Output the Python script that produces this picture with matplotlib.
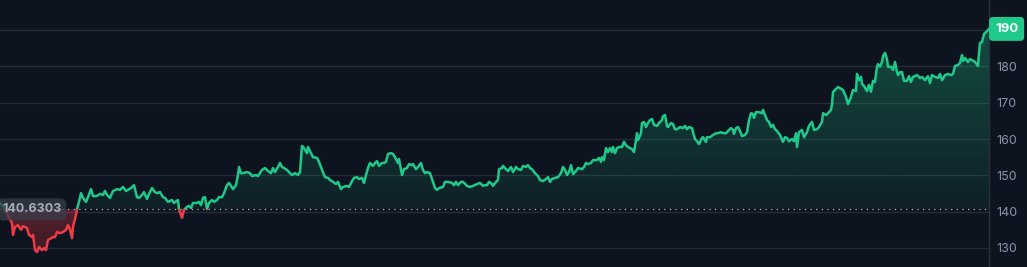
import numpy as np
import matplotlib.pyplot as plt
from matplotlib.path import Path
from matplotlib.patches import Rectangle
import matplotlib.transforms as mtransforms

plt.rcParams['font.family'] = ['Inter', 'DejaVu Sans']

# session index (time axis) and closing price
t = [0, 4, 8, 12, 13, 15, 18, 21, 23, 27, 29, 32, 33, 35, 37, 39, 42, 44, 46, 48,
     51, 53, 55, 57, 60, 63, 66, 68, 70, 72, 73, 76, 77, 79, 81, 83, 86, 88, 91, 93,
     97, 100, 103, 105, 107, 110, 113, 117, 120, 123, 126, 128, 131, 134, 137, 139,
     142, 144, 147, 149, 152, 155, 157, 160, 163,
     165, 168, 172, 174, 178, 179, 181, 182, 184, 187, 189, 191, 193, 197, 199, 201,
     203, 205, 207, 209, 212, 214, 217, 219, 222, 224, 227, 229, 231, 233, 236, 238,
     239, 241, 243, 247, 250, 252, 256, 258, 262, 265, 268, 271, 273, 275, 278, 280,
     282, 286, 289, 292, 295, 298, 300, 302, 304, 307, 308, 311, 313, 317, 319, 322,
     325, 328,
     330, 333, 336, 338, 341, 343, 347, 349, 352, 354, 357, 359, 362, 364, 366, 368,
     370, 373, 375, 377, 379, 382, 384, 386, 388, 391, 393, 396, 398, 399, 402, 404,
     407, 409, 412, 413, 416, 418, 421, 423, 425, 427, 430, 433, 435, 437, 439, 443,
     445, 448, 452, 454, 456, 458, 461, 463, 467, 470, 473, 477, 480, 483, 485, 487,
     489, 492, 493, 496,
     498, 499, 502, 503, 506, 508, 511, 513, 516, 518, 521, 523, 526, 528, 530, 532,
     535, 538, 540, 543, 546, 548, 550, 552, 555, 558, 561, 563, 565, 567, 569, 571,
     573, 576, 578, 582, 584, 586, 588, 591, 593, 597, 599, 601, 602, 604, 606, 608,
     610, 612, 613, 615, 617, 619, 622, 624, 626, 628, 632, 634, 636, 637, 638, 641,
     642, 644, 646, 648, 650, 652, 654, 657, 659,
     662, 663, 665, 667, 668, 671, 673, 675, 677, 680, 683, 685, 687, 689, 692, 693,
     695, 697, 699, 702, 703, 706, 707, 710, 713, 716, 718, 721, 723, 726, 728, 731,
     733, 734, 736, 738, 740, 742, 745, 747, 749, 751, 753, 754, 756, 759, 762, 763,
     765, 767, 769, 771, 773, 775, 777, 780, 783, 785, 787, 789, 792, 794, 796, 797,
     799, 802, 804, 807, 809, 812, 814, 817, 819, 822, 823,
     826, 828, 831, 832, 833, 836, 838, 841, 843, 846, 848, 851, 853, 856, 857, 859,
     861, 862, 864, 867, 869, 871, 873, 875, 877, 878, 880, 882, 883, 885, 887, 888,
     891, 893, 895, 897, 898, 900, 902, 904, 907, 909, 911, 913, 917, 920, 922, 925,
     928, 930, 932, 935, 938, 940, 942, 945, 948, 951, 953, 955, 958, 960, 962, 963,
     965, 968, 970, 972, 975, 978, 979, 980, 982, 984, 987, 989]

prices = [142.4, 141.2, 138.8, 136.9, 133.6, 135.8, 136.3, 135.0, 136.0, 135.5, 133.6,
          133.0, 133.6, 129.4, 128.9, 130.3, 129.4, 130.0, 129.4, 132.2, 132.7, 133.0,
          133.0, 134.4, 134.1, 134.4, 135.0, 136.3, 135.0, 132.7, 135.8, 139.1, 140.7,
          142.7, 145.1, 143.8, 142.7, 144.0, 146.2, 144.3, 144.3, 144.9, 144.6, 145.7,
          144.6, 143.8, 145.7, 146.2, 146.0, 146.8, 145.7, 146.0, 146.5, 147.3, 144.0,
          143.8, 144.6, 145.4, 143.5, 144.9, 146.5, 145.4, 145.1, 145.4, 144.0,
          143.8, 142.7, 143.2, 142.4, 143.2, 140.5, 139.1, 138.3, 140.5, 141.3, 141.6,
          141.0, 142.4, 142.4, 142.7, 141.8, 143.8, 144.0, 140.7, 142.4, 143.2, 142.7,
          143.2, 144.0, 144.0, 145.1, 147.3, 147.9, 147.1, 146.2, 147.3, 150.1, 152.3,
          150.6, 150.6, 150.9, 150.6, 149.8, 150.1, 149.8, 151.5, 152.0, 151.2, 150.6,
          152.0, 150.9, 152.3, 153.4, 152.3, 151.7, 150.9, 150.1, 150.6, 150.1, 150.9,
          158.1, 157.5, 156.1, 157.8, 156.1, 155.0, 154.8, 153.7, 151.5, 149.5, 149.3,
          148.7, 148.2, 147.6, 148.2, 146.2, 146.8, 147.1, 146.8, 148.4, 149.3, 149.5,
          149.0, 149.3, 147.9, 150.1, 152.0, 153.4, 152.6, 153.4, 153.9, 152.6, 153.4,
          153.4, 153.7, 155.9, 156.1, 155.9, 154.5, 153.4, 154.5, 150.1, 151.7, 152.0,
          153.1, 152.8, 153.1, 151.7, 152.3, 153.4, 151.5, 150.6, 150.9, 150.6, 148.2,
          146.5, 146.0, 146.5, 146.8, 148.2, 148.2, 147.9, 147.3, 148.2, 147.3, 148.2,
          148.2, 147.1, 146.8, 147.1, 147.6, 147.9, 147.1, 147.3, 147.3, 148.2, 147.6,
          147.1, 148.2,
          148.7, 151.7, 152.0, 152.6, 151.7, 151.2, 152.3, 150.9, 152.3, 151.7, 151.5,
          152.6, 152.3, 152.8, 152.0, 151.7, 150.6, 149.8, 148.7, 148.4, 149.0, 149.5,
          148.2, 149.0, 149.3, 149.5, 150.6, 152.3, 151.5, 150.1, 150.9, 152.8, 150.3,
          151.2, 152.0, 151.7, 152.3, 153.4, 153.1, 153.4, 154.2, 154.2, 154.8, 153.7,
          155.0, 154.2, 157.5, 156.4, 157.5, 156.4, 157.8, 156.1, 157.5, 157.8, 157.8,
          159.2, 158.3, 157.8, 157.2, 156.4, 159.7, 161.6, 159.7, 161.6, 164.4, 164.7,
          163.3, 164.4, 165.2, 165.5, 163.9, 163.6, 164.4,
          165.2, 166.3, 166.6, 163.6, 163.3, 164.4, 164.1, 162.7, 162.7, 163.3, 163.0,
          163.6, 162.7, 163.3, 163.0, 161.9, 160.0, 159.4, 158.6, 160.3, 160.5, 159.2,
          160.5, 160.5, 161.1, 161.6, 161.6, 161.9, 161.6, 161.6, 162.2, 163.0, 162.5,
          161.4, 163.0, 163.3, 162.2, 160.8, 161.1, 161.9, 165.2, 167.1, 166.9, 165.8,
          167.4, 167.4, 167.1, 168.0, 166.6, 165.2, 164.7, 163.3, 163.9, 162.7, 162.2,
          161.1, 159.2, 160.5, 160.3, 159.4, 160.0, 159.4, 161.6, 157.8, 161.9, 162.5,
          160.5, 161.9, 163.6, 164.7, 162.5, 162.7, 163.3, 164.7, 167.1,
          166.6, 167.1, 168.0, 169.6, 172.9, 173.8, 174.3, 173.8, 173.5, 171.6, 169.6,
          171.6, 173.5, 173.2, 177.9, 176.2, 177.1, 175.2, 174.6, 173.2, 174.9, 173.0,
          176.0, 175.7, 179.9, 180.6, 179.9, 181.2, 182.8, 183.7, 182.0, 179.9, 179.9,
          179.0, 181.2, 178.4, 177.6, 178.4, 178.4, 176.0, 176.0, 177.3, 175.7, 177.1,
          177.6, 176.8, 177.1, 176.2, 177.3, 175.4, 177.6, 177.1, 176.8, 177.9, 176.2,
          177.6, 177.9, 177.6, 177.9, 180.1, 180.4, 180.9, 183.1, 181.5, 182.3, 181.2,
          182.0, 181.7, 181.2, 180.1, 183.7, 186.4, 186.7, 188.9, 189.7, 190.3]

base = 140.6303
yticks = [130, 140, 150, 160, 170, 180, 190]

bg = '#0e1320'
green = '#1fc98a'
red = '#ef3b45'

t = np.array(t, dtype=float)
p = np.array(prices)

fig = plt.figure(figsize=(10.27, 2.67), dpi=100, facecolor=bg)
ax = fig.add_axes([0, 0, 989 / 1027, 1])
ax.set_facecolor(bg)
ax.set_xlim(0, 989)
ax.set_ylim(124.77, 198.26)

for y in yticks:
    ax.axhline(y, color='#262b37', lw=1.0, zorder=0)

# gradient fills clipped to the area between price and base line
def grad_fill(vals, color, a_top, a_bot, y_top, y_bot):
    verts = [(t[0], base)] + list(zip(t, vals)) + [(t[-1], base), (t[0], base)]
    path = Path(verts)
    rgb = np.array(plt.matplotlib.colors.to_rgb(color))
    n = 256
    img = np.zeros((n, 1, 4))
    img[:, 0, :3] = rgb
    img[:, 0, 3] = np.linspace(a_top, a_bot, n)
    im = ax.imshow(img, extent=(0, 989, y_bot, y_top), aspect='auto',
                   origin='upper', zorder=1, interpolation='bilinear')
    im.set_clip_path(path, transform=ax.transData)

grad_fill(np.maximum(p, base), green, 0.32, 0.07, 191, base)
grad_fill(np.minimum(p, base), red, 0.32, 0.2, base, 128)

above = Rectangle((0, base), 1000, 100, transform=ax.transData)
below = Rectangle((0, base - 100), 1000, 100, transform=ax.transData)
lg, = ax.plot(t, p, color=green, lw=1.8, zorder=3, solid_joinstyle='round')
lg.set_clip_path(above)
lr, = ax.plot(t, p, color=red, lw=1.8, zorder=3, solid_joinstyle='round')
lr.set_clip_path(below)

ax.axhline(base, color='#b8bcc6', lw=0.9, ls=(0, (1, 3.5)), zorder=2)

# last-price badge covers the top tick label, as in the original
ax.yaxis.tick_right()
ax.set_yticks(yticks)
ax.set_yticklabels([str(v) for v in yticks[:-1]] + [''])
ax.tick_params(axis='y', length=0, pad=5, labelsize=9, labelcolor='#8c93a6')
ax.tick_params(axis='x', bottom=False, labelbottom=False)
for s in ['top', 'bottom', 'left']:
    ax.spines[s].set_visible(False)
ax.spines['right'].set_color('#2a2f3b')
ax.spines['right'].set_linewidth(1.0)

blend = mtransforms.blended_transform_factory(ax.transAxes, ax.transData)
ax.annotate(f"{p[-1]:.0f}", xy=(1, p[-1]), xycoords=blend, xytext=(4.3, 0),
            textcoords='offset points', ha='left', va='center', color='white',
            fontsize=9.5, fontweight='bold', annotation_clip=False, zorder=6,
            bbox=dict(boxstyle='round,pad=0.45,rounding_size=0.3', fc=green, ec='none'))

ax.text(2, base, f"{base:.4f}", ha='left', va='center',
        color='#a9adb8', fontsize=9, fontweight='bold', zorder=6,
        bbox=dict(boxstyle='round,pad=0.4,rounding_size=0.5',
                  fc=(0.22, 0.24, 0.29, 0.75), ec='none'))

fig.savefig('out.png', dpi=100, facecolor=bg)
